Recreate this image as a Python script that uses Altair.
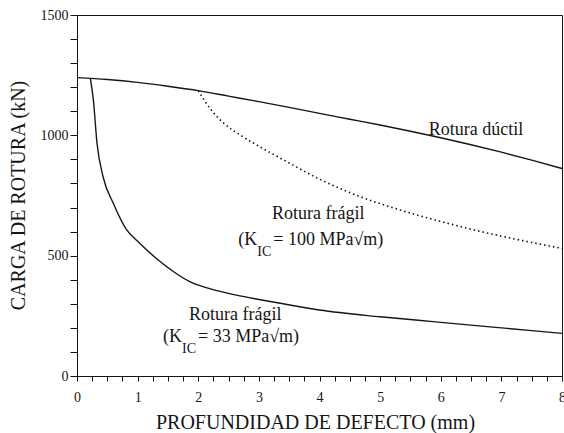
import altair as alt
import pandas as pd

# ---- data ----
duct_x = [0, 0.5, 1, 1.5, 2, 2.5, 3, 3.5, 4, 4.5, 5, 5.5, 6, 6.5, 7, 7.5, 8]
duct_y = [1240, 1232, 1220, 1204, 1186, 1163, 1140, 1116, 1091, 1067, 1043, 1017, 990, 961, 930, 897, 862]

frag33_x = [0.22, 0.27, 0.33, 0.43, 0.6, 0.82, 1.0, 1.32, 1.6, 1.86, 2.2, 2.63, 3.0, 3.4, 4.0, 5.0, 5.87, 7.0, 8.0]
frag33_y = [1238, 1147, 967, 828, 717, 607, 560, 486, 432, 392, 362, 336, 318, 300, 274, 246, 226, 200, 177]

frag100_x = [2.0, 2.2, 2.4, 2.7, 3.0, 3.5, 4.0, 4.5, 5.0, 5.5, 6.0, 6.5, 7.0, 7.5, 8.0]
frag100_y = [1185, 1110, 1055, 1000, 955, 885, 818, 762, 716, 677, 642, 610, 581, 555, 530]

x_ticks = [i * 0.25 for i in range(33)]
y_ticks = list(range(0, 1501, 100))

# annotations (data coordinates)
lab_text = ["Rotura dúctil", "Rotura frágil", "Rotura frágil"]
lab_x = [6.58, 3.98, 2.61]
lab_y = [1022, 673, 253]

k_x = [2.66, 1.42]
k_y = [565, 162]
k_a = ["(K", "(K"]
k_b = ["IC", "IC"]
k_c = ["= 100  MPa√m)", "= 33  MPa√m)"]

FONT = "Liberation Serif"
INK = "#151515"

duct = pd.DataFrame({"x": duct_x, "y": duct_y})
f33 = pd.DataFrame({"x": frag33_x, "y": frag33_y})
f100 = pd.DataFrame({"x": frag100_x, "y": frag100_y})
labs = pd.DataFrame({"x": lab_x, "y": lab_y, "t": lab_text})
kdf = pd.DataFrame({"x": k_x, "y": k_y, "a": k_a, "b": k_b, "c": k_c})

xs = alt.Scale(domain=[0, 8], nice=False)
ys = alt.Scale(domain=[0, 1500], nice=False)

x_axis = alt.Axis(
    values=x_ticks, tickCount=200,
    labelExpr="datum.value % 1 == 0 ? format(datum.value, 'd') : ''",
    title="PROFUNDIDAD DE DEFECTO (mm)",
    grid=False, tickSize=5, labelPadding=9,
    labelFont=FONT, labelFontSize=14, labelColor=INK,
    titleFont=FONT, titleFontSize=20, titleFontWeight="normal", titleColor=INK,
    titleX=238, titleY=52, titleBaseline="alphabetic", titleAlign="center",
    domainColor=INK, tickColor=INK, labelFlush=False, labelOverlap=False,
)
y_axis = alt.Axis(
    values=y_ticks, tickCount=200,
    labelExpr="datum.value % 500 == 0 ? format(datum.value, 'd') : ''",
    title="CARGA DE ROTURA (kN)",
    grid=False, tickSize=7, labelPadding=2,
    labelFont=FONT, labelFontSize=14, labelColor=INK,
    titleFont=FONT, titleFontSize=20, titleFontWeight="normal", titleColor=INK,
    titleX=-59, titleY=180, titleAngle=-90, titleAlign="center", titleBaseline="middle",
    domainColor=INK, tickColor=INK, labelFlush=False, labelOverlap=False,
)

base_line = alt.Chart(duct).mark_line(color=INK, strokeWidth=1.4, interpolate="monotone").encode(
    x=alt.X("x:Q", scale=xs, axis=x_axis),
    y=alt.Y("y:Q", scale=ys, axis=y_axis),
)
line33 = alt.Chart(f33).mark_line(color=INK, strokeWidth=1.4, interpolate="monotone").encode(
    x=alt.X("x:Q", scale=xs), y=alt.Y("y:Q", scale=ys)
)
line100 = alt.Chart(f100).mark_line(color=INK, strokeWidth=1.6, strokeDash=[1.5, 3],
                                    interpolate="monotone").encode(
    x=alt.X("x:Q", scale=xs), y=alt.Y("y:Q", scale=ys)
)

labels = alt.Chart(labs).mark_text(font=FONT, fontSize=18, color=INK, align="center",
                                   baseline="middle").encode(
    x=alt.X("x:Q", scale=xs), y=alt.Y("y:Q", scale=ys), text="t:N"
)
ka = alt.Chart(kdf).mark_text(font=FONT, fontSize=18, color=INK, align="left",
                              baseline="middle").encode(
    x=alt.X("x:Q", scale=xs), y=alt.Y("y:Q", scale=ys), text="a:N"
)
kb = alt.Chart(kdf).mark_text(font=FONT, fontSize=14, color=INK, align="left",
                              baseline="middle", dx=19, dy=12).encode(
    x=alt.X("x:Q", scale=xs), y=alt.Y("y:Q", scale=ys), text="b:N"
)
kc = alt.Chart(kdf).mark_text(font=FONT, fontSize=18, color=INK, align="left",
                              baseline="middle", dx=35).encode(
    x=alt.X("x:Q", scale=xs), y=alt.Y("y:Q", scale=ys), text="c:N"
)

chart = alt.layer(base_line, line33, line100, labels, ka, kb, kc).properties(
    width=485, height=361,
    autosize=alt.AutoSizeParams(type="none"),
    padding={"left": 77, "top": 15, "right": 2, "bottom": 57},
    background="white",
).configure_view(stroke=INK, strokeWidth=1)

chart.save("out.html", embed_options={"renderer": "svg", "actions": False})
